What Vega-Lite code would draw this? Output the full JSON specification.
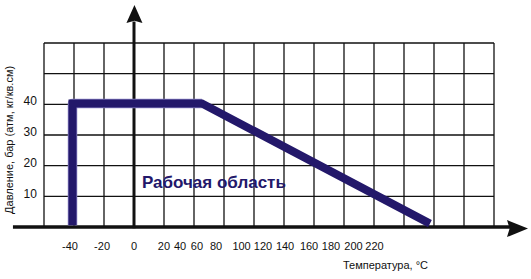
{
  "$schema": "https://vega.github.io/schema/vega-lite/v6.json",
  "width": 531,
  "height": 279,
  "autosize": {"type": "none"},
  "padding": 0,
  "background": "#ffffff",
  "config": {"view": {"stroke": null}},
  "layer": [
    {
      "data": {"values": [{"t": -60}, {"t": -40}, {"t": -20}, {"t": 0}, {"t": 20}, {"t": 40}, {"t": 60}, {"t": 80}, {"t": 100}, {"t": 120}, {"t": 140}, {"t": 160}, {"t": 180}, {"t": 200}, {"t": 220}, {"t": 240}]},
      "mark": {"type": "rule", "color": "#111111", "strokeWidth": 1.3},
      "encoding": {
        "x": {"field": "t", "type": "quantitative", "scale": {"domain": [-89.333, 264.667], "nice": false, "zero": false}, "axis": null},
        "y": {"datum": 0, "type": "quantitative", "scale": {"domain": [-16.957, 74.022], "nice": false, "zero": false}, "axis": null},
        "y2": {"datum": 60}
      }
    },
    {
      "data": {"values": [{"p": 10}, {"p": 20}, {"p": 30}, {"p": 40}, {"p": 50}, {"p": 60}]},
      "mark": {"type": "rule", "color": "#111111", "strokeWidth": 1.3},
      "encoding": {
        "y": {"field": "p", "type": "quantitative", "scale": {"domain": [-16.957, 74.022], "nice": false, "zero": false}, "axis": null},
        "x": {"datum": -60, "type": "quantitative", "scale": {"domain": [-89.333, 264.667], "nice": false, "zero": false}, "axis": null},
        "x2": {"datum": 240}
      }
    },
    {
      "data": {"values": [{"t0": -80.7, "t1": 252, "p": 0}]},
      "mark": {"type": "rule", "color": "#111111", "strokeWidth": 3.5},
      "encoding": {
        "x": {"field": "t0", "type": "quantitative", "scale": {"domain": [-89.333, 264.667], "nice": false, "zero": false}, "axis": null},
        "x2": {"field": "t1"},
        "y": {"field": "p", "type": "quantitative", "scale": {"domain": [-16.957, 74.022], "nice": false, "zero": false}, "axis": null}
      }
    },
    {
      "data": {"values": [{"t": 0, "p0": -0.4, "p1": 67}]},
      "mark": {"type": "rule", "color": "#111111", "strokeWidth": 3},
      "encoding": {
        "x": {"field": "t", "type": "quantitative", "scale": {"domain": [-89.333, 264.667], "nice": false, "zero": false}, "axis": null},
        "y": {"field": "p0", "type": "quantitative", "scale": {"domain": [-16.957, 74.022], "nice": false, "zero": false}, "axis": null},
        "y2": {"field": "p1"}
      }
    },
    {
      "data": {"values": [{"t": 255.67, "p": -0.5}]},
      "mark": {"type": "point", "shape": "M1,0L-1,-0.81L-0.75,0L-1,0.81Z", "size": 441, "filled": true, "color": "#111111", "opacity": 1, "strokeWidth": 0},
      "encoding": {
        "x": {"field": "t", "type": "quantitative", "scale": {"domain": [-89.333, 264.667], "nice": false, "zero": false}, "axis": null},
        "y": {"field": "p", "type": "quantitative", "scale": {"domain": [-16.957, 74.022], "nice": false, "zero": false}, "axis": null}
      }
    },
    {
      "data": {"values": [{"t": 0.3, "p": 69.45}]},
      "mark": {"type": "point", "shape": "M0,-1L0.89,1L0,0.75L-0.89,1Z", "size": 324, "filled": true, "color": "#111111", "opacity": 1, "strokeWidth": 0},
      "encoding": {
        "x": {"field": "t", "type": "quantitative", "scale": {"domain": [-89.333, 264.667], "nice": false, "zero": false}, "axis": null},
        "y": {"field": "p", "type": "quantitative", "scale": {"domain": [-16.957, 74.022], "nice": false, "zero": false}, "axis": null}
      }
    },
    {
      "data": {"values": [{"i": 1, "t": -41, "p": 0.6}, {"i": 2, "t": -41, "p": 40.3}, {"i": 3, "t": 45.3, "p": 40.3}]},
      "mark": {"type": "line", "color": "#8c85c6", "strokeWidth": 9.5, "strokeJoin": "round", "strokeCap": "butt"},
      "encoding": {
        "x": {"field": "t", "type": "quantitative", "scale": {"domain": [-89.333, 264.667], "nice": false, "zero": false}, "axis": null},
        "y": {"field": "p", "type": "quantitative", "scale": {"domain": [-16.957, 74.022], "nice": false, "zero": false}, "axis": null},
        "order": {"field": "i"}
      }
    },
    {
      "data": {"values": [{"i": 1, "t": -41, "p": 0.6}, {"i": 2, "t": -41, "p": 40.3}, {"i": 3, "t": 45.3, "p": 40.3}, {"i": 4, "t": 197.3, "p": 1.1}]},
      "mark": {"type": "line", "color": "#23186a", "strokeWidth": 8, "strokeJoin": "miter", "strokeCap": "butt"},
      "encoding": {
        "x": {"field": "t", "type": "quantitative", "scale": {"domain": [-89.333, 264.667], "nice": false, "zero": false}, "axis": null},
        "y": {"field": "p", "type": "quantitative", "scale": {"domain": [-16.957, 74.022], "nice": false, "zero": false}, "axis": null},
        "order": {"field": "i"}
      }
    },
    {
      "data": {"values": [{"label": "-40", "t": -42.7}, {"label": "-20", "t": -21.3}, {"label": "0", "t": 0}, {"label": "20", "t": 20}, {"label": "40", "t": 30.7}, {"label": "60", "t": 42}, {"label": "80", "t": 54.7}, {"label": "100", "t": 71.7}, {"label": "120", "t": 86}, {"label": "140", "t": 100.7}, {"label": "160", "t": 116.7}, {"label": "180", "t": 131.3}, {"label": "200", "t": 146.3}, {"label": "220", "t": 160.3}]},
      "mark": {"type": "text", "font": "Liberation Sans", "fontSize": 11, "color": "#111111", "align": "center", "baseline": "alphabetic"},
      "encoding": {
        "x": {"field": "t", "type": "quantitative", "scale": {"domain": [-89.333, 264.667], "nice": false, "zero": false}, "axis": null},
        "y": {"datum": -7.5, "type": "quantitative", "scale": {"domain": [-16.957, 74.022], "nice": false, "zero": false}, "axis": null},
        "text": {"field": "label"}
      }
    },
    {
      "data": {"values": [{"label": "40", "p": 41.1}, {"label": "30", "p": 31.0}, {"label": "20", "p": 20.9}, {"label": "10", "p": 10.8}]},
      "mark": {"type": "text", "font": "Liberation Sans", "fontSize": 12, "color": "#111111", "align": "right", "baseline": "middle"},
      "encoding": {
        "x": {"datum": -64.7, "type": "quantitative", "scale": {"domain": [-89.333, 264.667], "nice": false, "zero": false}, "axis": null},
        "y": {"field": "p", "type": "quantitative", "scale": {"domain": [-16.957, 74.022], "nice": false, "zero": false}, "axis": null},
        "text": {"field": "label"}
      }
    },
    {
      "data": {"values": [{"label": "Давление, бар (атм, кг/кв.см)", "t": -82.7, "p": 28.4}]},
      "mark": {"type": "text", "font": "Liberation Sans", "fontSize": 11, "color": "#111111", "align": "center", "baseline": "middle", "angle": 270},
      "encoding": {
        "x": {"field": "t", "type": "quantitative", "scale": {"domain": [-89.333, 264.667], "nice": false, "zero": false}, "axis": null},
        "y": {"field": "p", "type": "quantitative", "scale": {"domain": [-16.957, 74.022], "nice": false, "zero": false}, "axis": null},
        "text": {"field": "label"}
      }
    },
    {
      "data": {"values": [{"label": "Температура, °С", "t": 139.3, "p": -13.7}]},
      "mark": {"type": "text", "font": "Liberation Sans", "fontSize": 11, "color": "#111111", "align": "left", "baseline": "alphabetic"},
      "encoding": {
        "x": {"field": "t", "type": "quantitative", "scale": {"domain": [-89.333, 264.667], "nice": false, "zero": false}, "axis": null},
        "y": {"field": "p", "type": "quantitative", "scale": {"domain": [-16.957, 74.022], "nice": false, "zero": false}, "axis": null},
        "text": {"field": "label"}
      }
    },
    {
      "data": {"values": [{"label": "Рабочая область", "t": 5.3, "p": 12.7}]},
      "mark": {"type": "text", "font": "Liberation Sans", "fontSize": 17, "fontWeight": "bold", "color": "#23186a", "align": "left", "baseline": "alphabetic"},
      "encoding": {
        "x": {"field": "t", "type": "quantitative", "scale": {"domain": [-89.333, 264.667], "nice": false, "zero": false}, "axis": null},
        "y": {"field": "p", "type": "quantitative", "scale": {"domain": [-16.957, 74.022], "nice": false, "zero": false}, "axis": null},
        "text": {"field": "label"}
      }
    }
  ]
}
